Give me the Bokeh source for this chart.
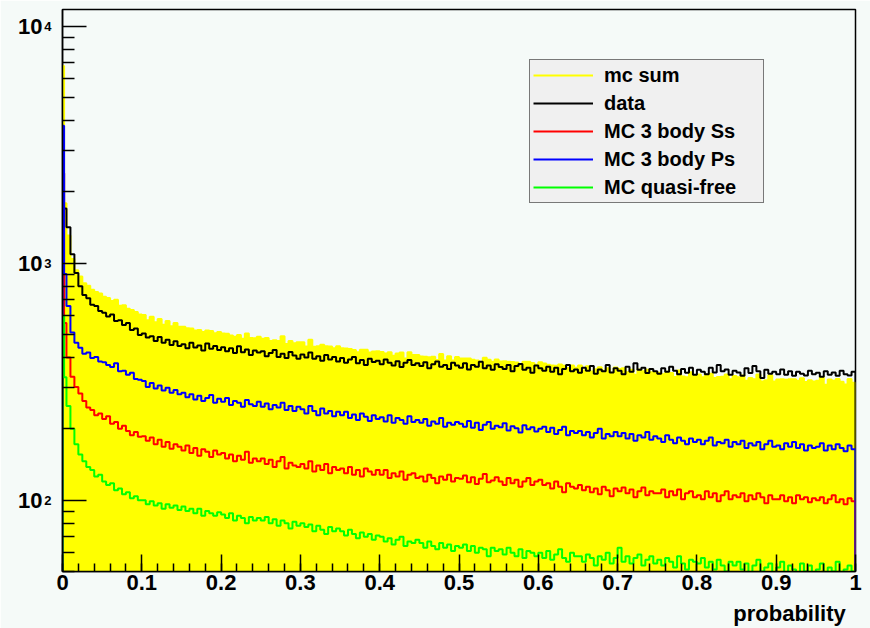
import numpy as np
from bokeh.plotting import figure
from bokeh.models import FixedTicker, Legend, LegendItem, LogAxis, LinearAxis
from bokeh.embed import file_html
from bokeh.resources import INLINE

# ---------------- data (counts per bin on [0, 1]) ----------------
# first bin is narrow (0-0.002), second 0.002-0.005, then 199 bins of 0.005
X_MIN, X_MAX = 0.0, 1.0
Y_MIN, Y_MAX = 50.0, 11770.0
FIRST_EDGES = [0.0, 0.002]
REGULAR_FROM, N_REGULAR = 0.005, 199

data_counts = [
    2400, 1700, 1420, 1090, 910, 800, 735, 712, 668, 660, 628,
    618, 596, 607, 570, 575, 548, 560, 522, 530, 498,
    505, 486, 492, 470, 488, 462, 475, 452, 468, 447,
    455, 438, 462, 441, 450, 428, 458, 436, 447, 430,
    442, 425, 438, 418, 446, 421, 432, 410, 428, 420,
    425, 405, 418, 430, 402, 415, 398, 422, 408, 395,
    412, 400, 420, 395, 405, 388, 410, 392, 402, 385,
    398, 380, 392, 402, 378, 390, 372, 395, 383, 388,
    375, 392, 380, 370, 386, 365, 380, 390, 372, 378,
    368, 382, 360, 375, 385, 366, 372, 358, 380, 370,
    362, 378, 356, 372, 366, 384, 360, 370, 355, 375,
    365, 358, 372, 350, 368, 376, 355, 362, 345, 370,
    360, 352, 366, 348, 362, 340, 358, 372, 350, 356,
    345, 362, 352, 368, 342, 356, 350, 372, 346, 360,
    352, 340, 366, 348, 378, 355, 362, 344, 358, 350,
    342, 360, 348, 366, 352, 340, 358, 345, 362, 338,
    355, 348, 340, 362, 346, 372, 350, 356, 338, 352,
    346, 335, 360, 344, 368, 350, 328, 355, 342, 348,
    340, 356, 338, 350, 335, 348, 342, 336, 352, 340,
    345, 332, 350, 338, 346, 335, 352, 340, 336, 348,
]

ps_counts = [
    3800, 900, 660, 510, 462, 440, 415, 420, 398, 402, 385,
    382, 372, 365, 378, 350, 352, 338, 345, 325, 322,
    318, 300, 312, 296, 305, 290, 298, 284, 292, 280,
    284, 272, 280, 266, 276, 262, 270, 278, 258, 268,
    260, 270, 252, 262, 258, 248, 265, 254, 250, 260,
    248, 256, 242, 252, 246, 258, 240, 250, 238, 248,
    242, 232, 250, 238, 228, 244, 232, 238, 226, 236,
    228, 236, 222, 230, 218, 232, 225, 216, 228, 220,
    224, 215, 228, 212, 222, 218, 210, 226, 214, 218,
    212, 220, 206, 215, 210, 222, 204, 212, 208, 214,
    210, 204, 216, 202, 212, 198, 208, 214, 200, 206,
    203, 211, 197, 205, 201, 193, 207, 199, 203, 195,
    200, 204, 194, 202, 190, 198, 204, 188, 196, 192,
    196, 188, 194, 184, 192, 200, 182, 190, 186, 194,
    186, 192, 182, 190, 178, 188, 184, 194, 180, 186,
    182, 176, 188, 180, 174, 184, 178, 172, 182, 176,
    180, 172, 178, 184, 170, 176, 174, 180, 168, 176,
    172, 178, 166, 174, 170, 176, 164, 172, 178, 168,
    170, 164, 174, 168, 176, 166, 172, 162, 170, 166,
    168, 174, 162, 170, 164, 172, 166, 161, 170, 164,
]

ss_counts = [
    2400, 560, 400, 332, 300, 282, 262, 246, 240, 228, 232,
    220, 226, 210, 214, 200, 206, 196, 188, 194, 185,
    186, 178, 184, 172, 180, 168, 176, 165, 172, 168,
    162, 170, 158, 166, 154, 164, 160, 152, 162, 156,
    158, 150, 156, 146, 154, 148, 160, 144, 150, 146,
    150, 142, 148, 138, 146, 152, 136, 144, 140, 138,
    142, 136, 146, 132, 140, 134, 142, 130, 138, 134,
    136, 130, 138, 128, 134, 126, 136, 132, 128, 134,
    128, 134, 124, 130, 126, 132, 122, 128, 130, 124,
    126, 120, 128, 124, 118, 126, 122, 128, 120, 124,
    123, 127, 119, 125, 117, 123, 129, 119, 121, 125,
    120, 116, 124, 118, 122, 114, 120, 124, 116, 120,
    122, 116, 118, 112, 120, 114, 108, 118, 114, 112,
    116, 110, 114, 108, 112, 106, 114, 110, 104, 112,
    109, 113, 107, 111, 103, 109, 113, 105, 109, 107,
    107, 111, 103, 109, 105, 111, 101, 107, 109, 103,
    105, 101, 109, 103, 107, 99, 105, 109, 101, 105,
    103, 107, 99, 105, 101, 107, 103, 97, 105, 101,
    101, 105, 99, 103, 97, 105, 101, 103, 98, 102,
    100, 103, 97, 101, 105, 98, 101, 96, 102, 99,
]

qf_counts = [
    600, 330, 250, 200, 172, 156, 146, 138, 134, 126, 128,
    120, 116, 118, 110, 112, 106, 108, 102, 104, 100,
    100, 96, 99, 95, 97, 92, 96, 93, 95, 91,
    94, 90, 92, 88, 92, 86, 90, 88, 86, 89,
    87, 84, 88, 82, 86, 84, 80, 85, 82, 84,
    82, 85, 80, 83, 78, 82, 80, 76, 81, 78,
    80, 77, 79, 74, 78, 75, 72, 77, 74, 76,
    74, 71, 75, 72, 69, 73, 70, 72, 68, 71,
    70, 67, 69, 65, 68, 70, 64, 67, 66, 68,
    66, 63, 67, 64, 62, 66, 63, 65, 61, 64,
    63, 65, 61, 64, 60, 63, 62, 58, 63, 61,
    62, 59, 63, 60, 58, 62, 57, 61, 60, 58,
    60, 57, 61, 56, 59, 62, 57, 55, 60, 58,
    58, 55, 59, 57, 53, 58, 56, 60, 54, 57,
    63, 55, 58, 54, 57, 59, 53, 56, 58, 54,
    56, 53, 57, 55, 52, 58, 54, 51, 56, 55,
    54, 57, 52, 55, 51, 56, 53, 50, 55, 53,
    55, 51, 54, 49, 53, 56, 50, 52, 54, 48,
    52, 55, 49, 53, 51, 48, 54, 50, 53, 49,
    51, 54, 48, 52, 50, 55, 49, 51, 53, 50,
]

# MC sum = sum of the three MC components
mc_sum_counts = [a + b + c for a, b, c in zip(ss_counts, ps_counts, qf_counts)]

series_labels = ["mc sum", "data", "MC 3 body Ss", "MC 3 body Ps", "MC quasi-free"]
x_tick_values = [0, 0.1, 0.2, 0.3, 0.4, 0.5, 0.6, 0.7, 0.8, 0.9, 1]
y_tick_values = [100, 1000, 10000]
y_tick_mantissa = ["10", "10", "10"]
y_tick_exponents = ["2", "3", "4"]
x_axis_title = "probability"

edges = FIRST_EDGES + list(np.linspace(REGULAR_FROM, X_MAX, N_REGULAR + 1))
N_BINS = len(edges) - 1
for arr in (data_counts, ps_counts, ss_counts, qf_counts):
    assert len(arr) == N_BINS, len(arr)

# ---------------- layout / style ----------------
W, H = 870, 628
LEFT, RIGHT, TOP, BOTTOM = 62, 15, 9, 57
FRAME_W = W - LEFT - RIGHT
BG = "#f5faf8"
FONT = "Liberation Sans"
LOW = 1.0  # below visible range: histogram outline starts from the floor

p = figure(width=W, height=H, x_range=(X_MIN, X_MAX), y_range=(Y_MIN, Y_MAX),
           y_axis_type="log", output_backend="svg", toolbar_location=None,
           min_border_left=LEFT, min_border_right=RIGHT,
           min_border_top=TOP, min_border_bottom=BOTTOM)
p.background_fill_color = BG
p.border_fill_color = BG
p.outline_line_color = "black"
p.outline_line_width = 1.5
p.xgrid.visible = False
p.ygrid.visible = False


def step_path(vals):
    xs = [X_MIN] + edges + [X_MAX]
    ys = [LOW] + list(vals) + [vals[-1], LOW]
    return xs, ys


# yellow filled MC sum
p.varea_step(x=edges, y1=[LOW] * (N_BINS + 1), y2=mc_sum_counts + [mc_sum_counts[-1]],
             step_mode="after", fill_color="#ffff00", fill_alpha=1.0)

renderers = {}
for key, vals, color in [("mc sum", mc_sum_counts, "#ffff00"),
                         ("data", data_counts, "#000000"),
                         ("MC 3 body Ss", ss_counts, "#ff0000"),
                         ("MC 3 body Ps", ps_counts, "#0000ff"),
                         ("MC quasi-free", qf_counts, "#00ff00")]:
    xs, ys = step_path(vals)
    renderers[key] = p.step(xs, ys, mode="after", line_color=color, line_width=2)


def px_to_x(px):
    return X_MIN + (px - LEFT) / FRAME_W * (X_MAX - X_MIN)


# ---------------- x axis ----------------
xa = p.xaxis[0]
xa.ticker = FixedTicker(ticks=x_tick_values,
                        minor_ticks=list(np.round(np.arange(0, 1.0001, 0.02), 2)))
xa.major_label_overrides = {0: "0", 1: "1"}
xa.major_tick_in = 17
xa.major_tick_out = 0
xa.minor_tick_in = 8
xa.minor_tick_out = 0
xa.major_tick_line_width = 1.5
xa.minor_tick_line_width = 1.5
xa.axis_line_width = 1.5
xa.major_label_text_font = FONT
xa.major_label_text_font_style = "bold"
xa.major_label_text_font_size = "22px"
xa.major_label_text_color = "black"
xa.major_label_standoff = 3

# axis title, right-aligned under the axis end (as a second, tick-less axis)
title_pos = px_to_x(789)
xt = LinearAxis(ticker=FixedTicker(ticks=[title_pos], minor_ticks=[]),
                major_label_overrides={title_pos: x_axis_title},
                axis_line_color=None, major_tick_line_color=None,
                minor_tick_line_color=None, major_label_standoff=2,
                major_label_text_font=FONT, major_label_text_font_style="bold",
                major_label_text_font_size="22px", major_label_text_color="black")
p.add_layout(xt, "below")

# ---------------- y axis (exponents on main axis, mantissa "10" on a second) ----------------
ya = p.yaxis[0]
minors = [m * d for d in (10, 100, 1000) for m in range(2, 10)]
ya.ticker = FixedTicker(ticks=y_tick_values, minor_ticks=minors)
ya.major_label_overrides = dict(zip(y_tick_values, y_tick_exponents))
ya.major_label_text_font = FONT
ya.major_label_text_font_style = "bold"
ya.major_label_text_font_size = "13px"
ya.major_label_text_color = "black"
ya.major_label_standoff = 11
ya.major_tick_in = 24
ya.major_tick_out = 0
ya.minor_tick_in = 12
ya.minor_tick_out = 0
ya.major_tick_line_width = 1.5
ya.minor_tick_line_width = 1.5
ya.axis_line_width = 1.5

ym = LogAxis(ticker=FixedTicker(ticks=y_tick_values, minor_ticks=[]),
             major_label_overrides=dict(zip(y_tick_values, y_tick_mantissa)),
             axis_line_color=None, major_tick_line_color=None,
             minor_tick_line_color=None, major_label_standoff=-7,
             major_label_text_font=FONT, major_label_text_font_style="bold",
             major_label_text_font_size="22px", major_label_text_color="black")
p.add_layout(ym, "left")

# ---------------- legend ----------------
items = [LegendItem(label=lbl, renderers=[renderers[lbl]]) for lbl in series_labels]
legend = Legend(items=items, location=(529 - LEFT, (H - BOTTOM) - 203))
legend.label_text_font = FONT
legend.label_text_font_style = "bold"
legend.label_text_font_size = "20px"
legend.label_text_color = "black"
legend.glyph_width = 60
legend.glyph_height = 24
legend.label_height = 24
legend.label_width = 156
legend.label_standoff = 11
legend.spacing = 4
legend.padding = 3
legend.margin = 0
legend.border_line_color = "black"
legend.border_line_width = 1
legend.background_fill_color = "#f0f0f0"
legend.background_fill_alpha = 1.0
p.add_layout(legend)

open("out.html", "w").write(file_html(p, INLINE))
